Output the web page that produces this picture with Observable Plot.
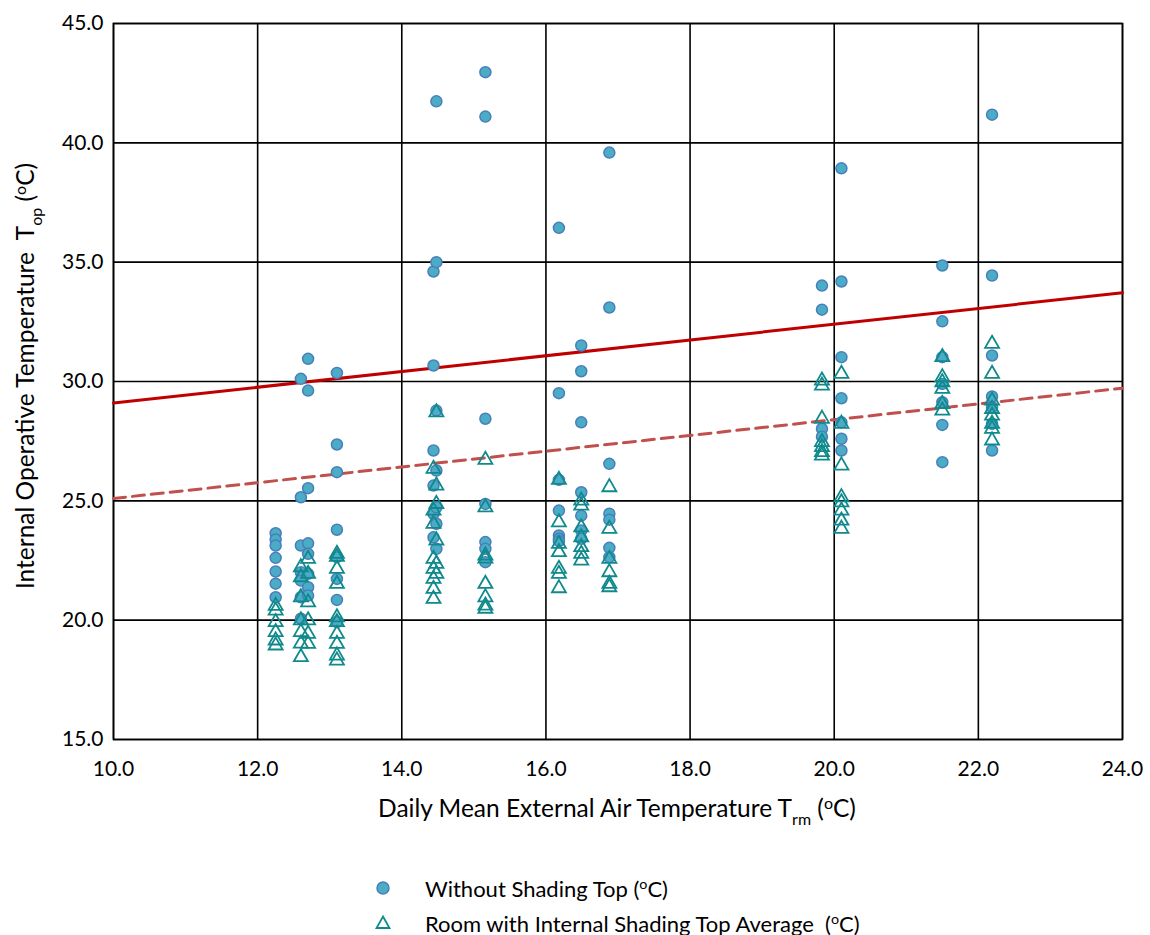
<!DOCTYPE html>
<html><head><meta charset="utf-8">
<script src="https://cdn.jsdelivr.net/npm/d3@7"></script>
<script src="https://cdn.jsdelivr.net/npm/@observablehq/plot@0.6"></script>
<style>
body{margin:0;background:#fff;}
#wrap{position:relative;width:1150px;height:935px;overflow:hidden;}
#legend{position:absolute;left:0;top:0;width:1150px;height:935px;pointer-events:none;font-family:Lato,"Open Sans",sans-serif;font-size:22px;color:#000;}
.li{position:absolute;left:373px;height:28px;display:flex;align-items:center;white-space:pre;}
.li svg{width:20px;height:20px;margin-right:32px;}
sup{font-size:0.65em;line-height:0;}
</style>
</head><body>
<div id="wrap"><div id="chart"></div>
<div id="legend">
<div class="li" style="top:874px;"><svg viewBox="-10 -10 20 20"><circle r="6" fill="#4BACC6" stroke="#4A7EBB" stroke-width="1.5"/></svg><span>Without Shading Top (<sup>o</sup>C)</span></div>
<div class="li" style="top:909px;"><svg viewBox="-10 -10 20 20"><path d="M0,-6.5L6.5,5L-6.5,5Z" fill="none" stroke="#0F8A8C" stroke-width="1.8"/></svg><span>Room with Internal Shading Top Average  (<sup>o</sup>C)</span></div>
</div></div>
<script>
// Daily mean external air temperature (x) for each measurement column
const trm = [12.25, 12.6, 12.7, 13.1, 14.44, 14.48, 15.16, 16.18, 16.49, 16.88, 19.83, 20.1, 21.5, 22.19];
// Without shading Top (°C) per column
const withoutShading = [
  [23.64, 23.38, 23.13, 22.61, 22.04, 21.53, 20.96],
  [30.11, 25.15, 23.13, 22.01, 21.66, 20.96, 20.06],
  [30.95, 29.62, 25.53, 23.22, 22.78, 21.94, 21.38, 21.03],
  [30.36, 27.36, 26.20, 23.79, 22.64, 21.73, 20.85, 19.92],
  [34.61, 30.67, 27.11, 25.64, 24.46, 23.47],
  [41.74, 35.0, 28.78, 26.27, 24.73, 24.04, 22.99],
  [42.96, 41.1, 28.44, 24.87, 23.27, 22.99, 22.43],
  [36.44, 29.51, 25.88, 24.59, 23.55, 23.41, 23.31],
  [31.51, 30.43, 28.29, 25.36, 24.38, 23.76, 23.41],
  [39.59, 33.1, 26.55, 24.46, 24.21, 23.03, 22.64],
  [34.02, 33.01, 28.02, 27.69],
  [38.93, 34.19, 31.02, 29.3, 28.29, 27.6, 27.11],
  [34.86, 32.52, 31.02, 29.9, 29.13, 28.18, 26.62],
  [41.18, 34.44, 31.09, 29.37, 28.92, 28.23, 27.11]
];
// Room with internal shading Top average (°C) per column
const internalShading = [
  [20.6, 20.4, 19.92, 19.5, 19.15, 18.94],
  [22.22, 21.8, 20.96, 19.99, 19.5, 19.02, 18.45],
  [22.57, 21.94, 20.75, 19.99, 19.43, 19.01],
  [22.78, 22.65, 22.15, 21.52, 20.12, 19.92, 19.43, 19.01, 18.52, 18.31],
  [26.34, 24.59, 24.04, 22.57, 22.15, 21.73, 21.31, 20.89],
  [28.71, 25.64, 24.87, 23.34, 22.36, 21.94],
  [26.72, 24.73, 22.71, 22.58, 21.52, 20.96, 20.61, 20.48],
  [25.88, 24.1, 23.2, 22.85, 22.15, 21.94, 21.34],
  [25.01, 24.8, 23.89, 23.47, 23.06, 22.78, 22.5],
  [25.57, 23.83, 22.57, 22.01, 21.52, 21.38],
  [30.04, 29.83, 28.44, 27.46, 27.25, 27.04, 26.9],
  [30.32, 28.23, 26.48, 25.15, 24.94, 24.59, 24.17, 23.83],
  [31.02, 30.18, 29.97, 29.69, 29.06, 28.78],
  [31.58, 30.32, 29.2, 28.85, 28.57, 28.23, 28.02, 27.53]
];
// Comfort limit lines (endpoints)
const limitX = [10, 24];
const upperLimit = [29.1, 33.72];
const lowerLimit = [25.1, 29.72];
const xTicks = [10, 12, 14, 16, 18, 20, 22, 24];
const yTicks = [15, 20, 25, 30, 35, 40, 45];

const ptsA = trm.flatMap((x, i) => withoutShading[i].map(y => ({x, y})));
const ptsB = trm.flatMap((x, i) => internalShading[i].map(y => ({x, y})));
const upper = limitX.map((x, i) => ({x, y: upperLimit[i]}));
const lower = limitX.map((x, i) => ({x, y: lowerLimit[i]}));

const chart = Plot.plot({
  width: 1150, height: 835,
  marginLeft: 113, marginRight: 28, marginTop: 23, marginBottom: 96,
  style: {fontFamily: "Lato, 'Open Sans', sans-serif", fontSize: "21px", color: "#000", background: "#fff"},
  x: {domain: [10, 24]},
  y: {domain: [15, 45]},
  marks: [
    Plot.gridX(xTicks, {stroke: "#000", strokeOpacity: 1, strokeWidth: 1.6}),
    Plot.gridY(yTicks, {stroke: "#000", strokeOpacity: 1, strokeWidth: 1.6}),
    Plot.frame({stroke: "#000", strokeWidth: 1.6}),
    Plot.axisX(xTicks, {tickSize: 0, tickPadding: 22, tickFormat: d => d.toFixed(1), label: null}),
    Plot.axisY(yTicks, {tickSize: 0, tickPadding: 10, tickFormat: d => d.toFixed(1), label: null}),
    Plot.line(lower, {x: "x", y: "y", stroke: "#C0504D", strokeWidth: 3, strokeDasharray: "12,7"}),
    Plot.line(upper, {x: "x", y: "y", stroke: "#C00000", strokeWidth: 3}),
    Plot.dot(ptsA, {x: "x", y: "y", r: 5.5, fill: "#4BACC6", stroke: "#4A7EBB", strokeWidth: 1.5}),
    Plot.dot(ptsB, {x: "x", y: "y", r: 5.2, symbol: "triangle", fill: "none", stroke: "#0F8A8C", strokeWidth: 1.8})
  ]
});
document.getElementById("chart").appendChild(chart);

const svg = d3.select(chart);
const xt = svg.append("text").attr("x", 617).attr("y", 817).attr("text-anchor", "middle")
  .attr("font-family", "Lato, 'Open Sans', sans-serif").attr("font-size", 24.5).attr("fill", "#000");
xt.append("tspan").text("Daily Mean External Air Temperature T");
xt.append("tspan").attr("dy", 8).attr("font-size", 16).text("rm");
xt.append("tspan").attr("dy", -8).text(" (");
xt.append("tspan").attr("dy", -8).attr("font-size", 16).text("o");
xt.append("tspan").attr("dy", 8).text("C)");

const yt = svg.append("text").attr("transform", "translate(34,376) rotate(-90)").attr("text-anchor", "middle")
  .attr("font-family", "Lato, 'Open Sans', sans-serif").attr("font-size", 24.5).attr("fill", "#000");
yt.append("tspan").text("Internal Operative Temperature  T");
yt.append("tspan").attr("dy", 8).attr("font-size", 16).text("op");
yt.append("tspan").attr("dy", -8).text(" (");
yt.append("tspan").attr("dy", -8).attr("font-size", 16).text("o");
yt.append("tspan").attr("dy", 8).text("C)");
</script>
</body></html>
